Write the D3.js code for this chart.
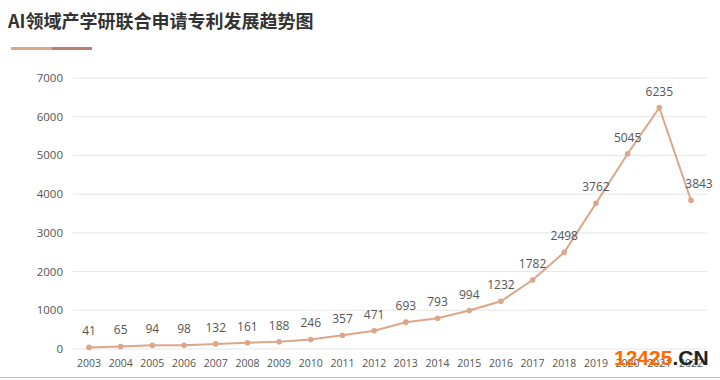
<!DOCTYPE html>
<html><head><meta charset="utf-8">
<script src="https://cdn.jsdelivr.net/npm/d3@7/dist/d3.min.js"></script>
<style>body{margin:0;background:#fff}svg{display:block}</style>
</head><body>
<svg id="c" width="720" height="380"></svg>
<script>
const years = ["2003","2004","2005","2006","2007","2008","2009","2010","2011","2012","2013","2014","2015","2016","2017","2018","2019","2020","2021","2022"];
const values = [41,65,94,98,132,161,188,246,357,471,693,793,994,1232,1782,2498,3762,5045,6235,3843];
const yTicks = [0,1000,2000,3000,4000,5000,6000,7000];
const title = "AI领域产学研联合申请专利发展趋势图";

const svg = d3.select("#c");
const font = "'Open Sans','Noto Sans CJK SC',sans-serif";
const x = d3.scalePoint().domain(years).range([89, 691]);
const y = d3.scaleLinear().domain([0,7000]).range([349, 78]);

svg.append("text").attr("x",8).attr("y",28).attr("font-family","'Noto Sans CJK SC',sans-serif")
  .attr("font-weight","bold").attr("font-size",18).attr("fill","#333").text(title);
svg.append("rect").attr("x",11).attr("y",47).attr("width",41).attr("height",3).attr("fill","#dca68a");
svg.append("rect").attr("x",52).attr("y",47).attr("width",40).attr("height",3).attr("fill","#b98070");

// gridlines
svg.append("g").selectAll("line").data(yTicks).join("line")
  .attr("x1",73).attr("x2",707).attr("y1",d=>y(d)).attr("y2",d=>y(d))
  .attr("stroke","#e6e6e6").attr("stroke-width",1);
svg.append("g").selectAll("text").data(yTicks).join("text")
  .attr("x",63).attr("y",d=>y(d)+4).attr("text-anchor","end")
  .attr("font-family",font).attr("font-size",11.5).attr("fill","#555").text(d=>d);

svg.append("g").selectAll("text").data(years).join("text")
  .attr("x",d=>x(d)).attr("y",367).attr("text-anchor","middle")
  .attr("font-family",font).attr("font-size",10.5).attr("fill","#555").text(d=>d);

const line = d3.line().x((d,i)=>x(years[i])).y(d=>y(d));
svg.append("path").datum(values).attr("d",line).attr("fill","none")
  .attr("stroke","#dca68a").attr("stroke-width",2);
svg.append("g").selectAll("circle").data(values).join("circle")
  .attr("cx",(d,i)=>x(years[i])).attr("cy",d=>y(d)).attr("r",2.8).attr("fill","#dca68a");
svg.append("g").selectAll("text").data(values).join("text")
  .attr("x",(d,i)=>x(years[i]) + (i===19?8:0)).attr("y",d=>y(d)-12).attr("text-anchor","middle")
  .attr("font-family",font).attr("font-size",12).attr("fill","#555").text(d=>d);

svg.append("line").attr("x1",0).attr("x2",720).attr("y1",377.5).attr("y2",377.5)
  .attr("stroke","#bbb").attr("stroke-width",1);

const wm = svg.append("text").attr("x",614).attr("y",365).attr("font-family","'Liberation Sans',Arial,sans-serif")
  .attr("font-weight","bold").attr("font-size",21);
wm.append("tspan").attr("fill","#ff6a00").text("12425");
wm.append("tspan").attr("fill","#222").text(".CN");
</script>
</body></html>
